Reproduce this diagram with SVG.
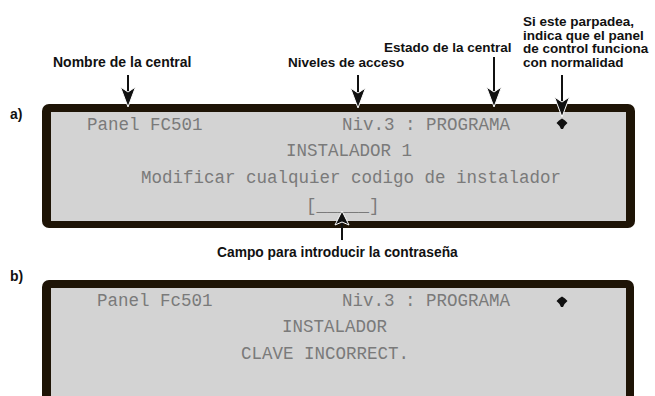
<svg xmlns="http://www.w3.org/2000/svg" width="655" height="396" viewBox="0 0 655 396">
<defs>
<style>
.lbl{font-family:"Liberation Sans",Arial,sans-serif;font-weight:bold;font-size:13.5px;fill:#111}
.tag{font-family:"Liberation Sans",Arial,sans-serif;font-weight:bold;font-size:14px;fill:#111}
.lcd{font-family:"Liberation Mono","DejaVu Sans Mono",monospace;font-size:17.5px;fill:#7a7a7a}
.frame{fill:#1e1406}
.screen{fill:#d3d3d3}
.conn{stroke:#111;stroke-width:2;fill:none}
.dot{fill:#111}
</style>
<marker id="ah" markerUnits="userSpaceOnUse" viewBox="-1 -1 22 17" refX="5" refY="7.5" markerWidth="22" markerHeight="17" orient="auto">
<path d="M0,0 L20,7.5 L0,15 L5,7.5 Z" fill="#111" stroke="#fff" stroke-width="1"/>
</marker>
<marker id="ahs" markerUnits="userSpaceOnUse" viewBox="-1 -1 16 16" refX="3" refY="7" markerWidth="16" markerHeight="16" orient="auto">
<path d="M0,0 L14,7 L0,14 L3,7 Z" fill="#111" stroke="#fff" stroke-width="1"/>
</marker>
</defs>
<rect width="655" height="396" fill="#fff"/>

<g id="panel-a">
<rect class="frame" x="42" y="104" width="593" height="124" rx="7"/>
<rect class="screen" x="51" y="112" width="575" height="109"/>
<text class="lcd" x="87" y="130">Panel FC501</text>
<text class="lcd" x="342" y="130">Niv.3 : PROGRAMA</text>
<text class="lcd" x="286" y="156">INSTALADOR 1</text>
<text class="lcd" x="141" y="183">Modificar cualquier codigo de instalador</text>
<text class="lcd" x="306" y="211">[_____]</text>
<path class="dot" d="M562,118.5 L565,120.5 L567.5,123 L564.5,126 L563,129 L561,129 L559.5,126 L556.5,123 L559,120.5 Z"/>
</g>

<g id="panel-b">
<rect class="frame" x="42" y="280" width="592" height="140" rx="7"/>
<rect class="screen" x="51" y="288" width="575" height="120"/>
<text class="lcd" x="97" y="306">Panel Fc501</text>
<text class="lcd" x="342" y="306">Niv.3  : PROGRAMA</text>
<text class="lcd" x="282" y="332">INSTALADOR</text>
<text class="lcd" x="241" y="359">CLAVE INCORRECT.</text>
<path class="dot" d="M562,296.5 L565,298.5 L567.5,301 L564.5,304 L563,307 L561,307 L559.5,304 L556.5,301 L559,298.5 Z"/>
</g>

<g id="label-a"><text class="tag" x="10" y="119">a)</text></g>
<g id="label-b"><text class="tag" x="10" y="281">b)</text></g>

<g id="note-nombre"><text class="lbl" x="53" y="67" style="font-size:14px">Nombre de la central</text></g>
<g id="note-niveles"><text class="lbl" x="288" y="67">Niveles de acceso</text></g>
<g id="note-estado"><text class="lbl" x="384" y="52">Estado de la central</text></g>
<g id="note-parpadea">
<text class="lbl" x="523" y="26">Si este parpadea,</text>
<text class="lbl" x="523" y="39.7">indica que el panel</text>
<text class="lbl" x="523" y="53.4">de control funciona</text>
<text class="lbl" x="523" y="67">con normalidad</text>
</g>
<g id="note-campo"><text class="lbl" x="217" y="257" style="font-size:13.8px">Campo para introducir la contraseña</text></g>

<g id="connectors">
<line class="conn" x1="128" y1="75" x2="128" y2="92" marker-end="url(#ah)"/>
<line class="conn" x1="358" y1="75" x2="358" y2="93" marker-end="url(#ah)"/>
<line class="conn" x1="494" y1="57" x2="494" y2="92" marker-end="url(#ah)"/>
<line class="conn" x1="562" y1="75" x2="562" y2="102" marker-end="url(#ah)"/>
<line class="conn" x1="342" y1="240" x2="342" y2="222" marker-end="url(#ahs)"/>
</g>
</svg>
